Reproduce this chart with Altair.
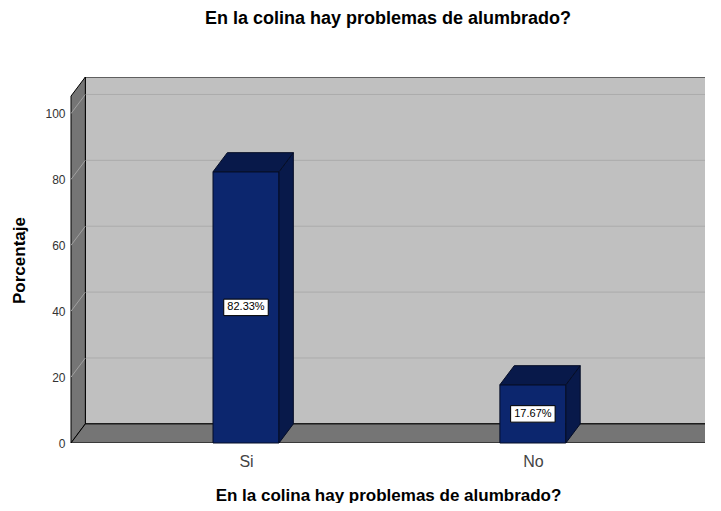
import json
import altair as alt
import pandas as pd

# ---- data ----
categories = ["Si", "No"]
values = [82.33, 17.67]
y_ticks = [0, 20, 40, 60, 80, 100]
chart_title = "En la colina hay problemas de alumbrado?"
x_title = "En la colina hay problemas de alumbrado?"
y_title = "Porcentaje"

# ---- layout constants (scale units) ----
X_MIN, X_MAX = -0.61, 1.6
Y_MAX = 111.1
DX, DY = 0.05, 5.8          # depth offset of the 3D effect
BAR_W = 0.23
BOX_W, BOX_H = 0.155, 5.0
X_FAR = X_MAX + 0.2

FONT = "Liberation Sans"
WALL = "#757575"
BACK = "#C0C0C0"
FRONT = "#0C266E"
DARK = "#08194A"

pos = list(range(len(categories)))
xs = alt.Scale(domain=[X_MIN, X_MAX], nice=False, zero=False)
ys = alt.Scale(domain=[0, Y_MAX], nice=False, zero=False)

label_expr = f"{json.dumps(categories)}[round(datum.value)]"
x_axis = alt.Axis(
    values=pos, labelExpr=label_expr, title=x_title, domain=False, ticks=False, grid=False,
    labelFont=FONT, labelFontSize=16, labelColor="#444", labelPadding=10,
    titleFont=FONT, titleFontSize=17, titleFontWeight="bold", titleColor="#000", titlePadding=18)
y_axis = alt.Axis(
    values=y_ticks, title=y_title, domain=False, ticks=False, grid=False,
    labelFont=FONT, labelFontSize=12, labelColor="#333", labelPadding=6,
    titleFont=FONT, titleFontSize=17, titleFontWeight="bold", titleColor="#000", titlePadding=16)


def X(f="x"):
    return alt.X(f"{f}:Q", scale=xs, axis=x_axis)


def Y(f="y"):
    return alt.Y(f"{f}:Q", scale=ys, axis=y_axis)


# back wall
back_df = pd.DataFrame({"x": [X_MIN + DX], "x2": [X_FAR], "y": [DY], "y2": [Y_MAX]})
back = alt.Chart(back_df).mark_rect(fill=BACK, stroke="#000", strokeWidth=1, clip=True).encode(
    x=X(), x2="x2:Q", y=Y(), y2="y2:Q")

grid_df = pd.DataFrame({"v": y_ticks[1:]})
back_grid = alt.Chart(grid_df).transform_calculate(
    y=f"datum.v + {DY}", x=f"{X_MIN + DX}", x2=f"{X_FAR}"
).mark_rule(color="#ABABAB", strokeWidth=1, clip=True).encode(x=X(), x2="x2:Q", y=Y())

# left wall
left_df = pd.DataFrame({"x": [X_MIN, X_MIN + DX], "y": [0, DY], "y2": [Y_MAX - DY, Y_MAX], "s": ["w", "w"]})
left = alt.Chart(left_df).mark_area(orient="vertical", fill=WALL, stroke="#000", strokeWidth=1).encode(
    x=X(), y=Y(), y2="y2:Q", detail="s:N")
left_grid = alt.Chart(grid_df).transform_calculate(
    y="datum.v", y2=f"datum.v + {DY}", x=f"{X_MIN}", x2=f"{X_MIN + DX}"
).mark_rule(color="#A0A0A0", strokeWidth=1).encode(x=X(), x2="x2:Q", y=Y(), y2="y2:Q")

# floor
floor_df = pd.DataFrame({"y": [0, DY], "x": [X_MIN, X_MIN + DX], "x2": [X_FAR - DX, X_FAR], "s": ["f", "f"]})
floor = alt.Chart(floor_df).mark_area(orient="horizontal", fill=WALL, stroke="#000", strokeWidth=1, clip=True).encode(
    y=Y(), x=X(), x2="x2:Q", detail="s:N")

# bars
rows_front, rows_side, rows_top = [], [], []
for p, c, v in zip(pos, categories, values):
    xl, xr = p - BAR_W / 2, p + BAR_W / 2
    rows_front.append({"cat": c, "x": xl, "x2": xr, "y": 0, "y2": v, "xc": p, "yc": v / 2,
                       "bx": p - BOX_W / 2, "bx2": p + BOX_W / 2, "by": v / 2 - BOX_H / 2,
                       "by2": v / 2 + BOX_H / 2, "label": f"{v:.2f}%"})
    rows_side.append({"cat": c, "x": xr, "y": 0, "y2": v})
    rows_side.append({"cat": c, "x": xr + DX, "y": DY, "y2": v + DY})
    rows_top.append({"cat": c, "y": v, "x": xl, "x2": xr})
    rows_top.append({"cat": c, "y": v + DY, "x": xl + DX, "x2": xr + DX})

front_df = pd.DataFrame(rows_front)
side = alt.Chart(pd.DataFrame(rows_side)).mark_area(
    orient="vertical", fill=DARK, stroke="#050d26", strokeWidth=1).encode(
    x=X(), y=Y(), y2="y2:Q", detail="cat:N")
top = alt.Chart(pd.DataFrame(rows_top)).mark_area(
    orient="horizontal", fill=DARK, stroke="#050d26", strokeWidth=1).encode(
    y=Y(), x=X(), x2="x2:Q", detail="cat:N")

front = alt.Chart(front_df).mark_rect(fill=FRONT, stroke="#050d26", strokeWidth=1).encode(
    x=X(), x2="x2:Q", y=Y(), y2="y2:Q")

box = alt.Chart(front_df).mark_rect(fill="white", stroke="#000", strokeWidth=1).encode(
    x=X("bx"), x2="bx2:Q", y=Y("by"), y2="by2:Q")
text = alt.Chart(front_df).mark_text(font=FONT, fontSize=11, color="#000").encode(
    x=X("xc"), y=Y("yc"), text="label:N")

chart = alt.layer(
    back, back_grid, left, left_grid, floor, front, side, top, box, text
).properties(
    width=634, height=366,
    title=alt.TitleParams(chart_title, font=FONT, fontSize=18, fontWeight="bold", color="#000",
                          anchor="middle", offset=47),
    autosize=alt.AutoSizeParams(type="none"),
    padding={"left": 63, "top": 69, "right": 0, "bottom": 60},
).configure_view(stroke=None)

chart.save("out.html", embed_options={"renderer": "svg", "actions": False})
